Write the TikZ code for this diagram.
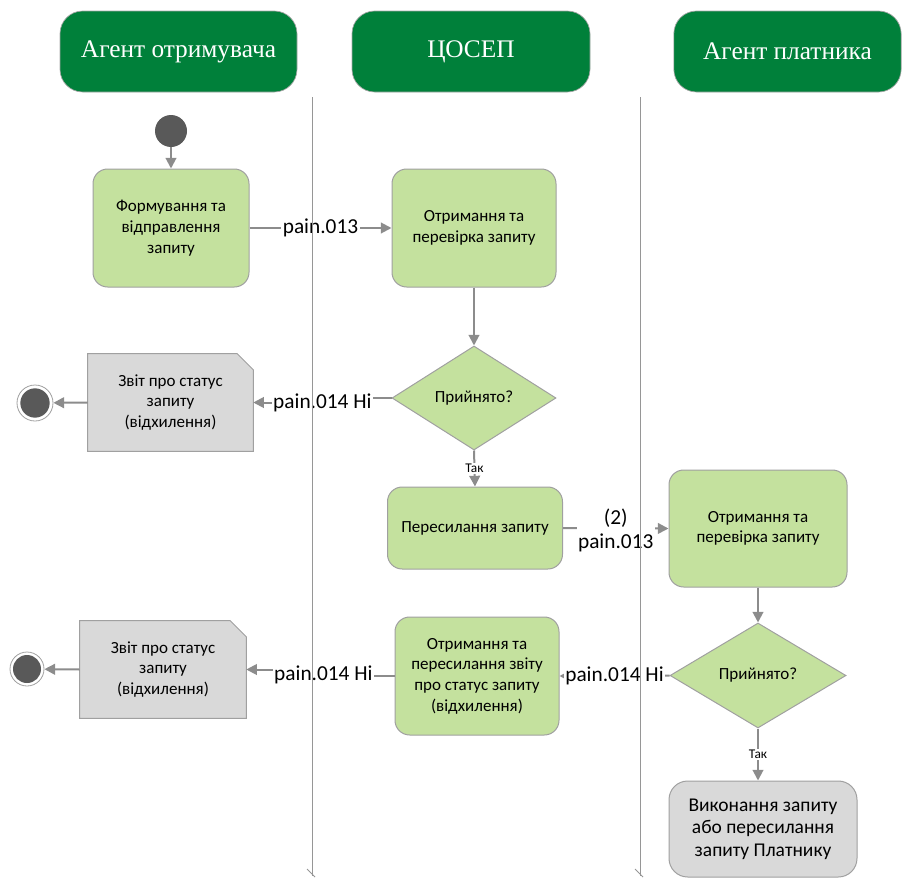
\documentclass[tikz,border=0pt]{standalone}
\usepackage{fontspec}
\setmainfont{Carlito}
\newfontfamily\hdrfont{Liberation Serif}
\usetikzlibrary{shapes.geometric,arrows.meta,calc,backgrounds}
\definecolor{hdrgreen}{RGB}{0,128,58}
\definecolor{lgreen}{RGB}{196,225,158}
\definecolor{docgray}{RGB}{217,217,217}
\definecolor{bordergray}{RGB}{160,160,160}
\definecolor{conngray}{RGB}{140,140,140}
\definecolor{lanegray}{RGB}{150,150,150}
\definecolor{darkdot}{RGB}{89,89,89}
\begin{document}
\begin{tikzpicture}[x=0.75pt,y=-0.75pt,
  hdr/.style={rectangle, rounded corners=17pt, fill=hdrgreen, draw=gray!70, line width=0.5pt,
    text=white, font=\hdrfont\fontsize{19}{23}\selectfont, minimum height=60.75pt},
  boxtext/.style={align=center, font=\fontsize{12.75}{15.5}\selectfont},
  actbox/.style={boxtext, rectangle, rounded corners=11pt, draw=bordergray, line width=0.75pt, fill=lgreen, inner sep=2pt},
  decbox/.style={boxtext, diamond, draw=bordergray, line width=0.75pt, fill=lgreen, inner sep=0pt},
  docbox/.style={boxtext, rectangle, inner sep=0pt},
  docshape/.style={fill=docgray, draw=bordergray, line width=0.75pt},
  conn/.style={draw=conngray, line width=1.5pt, -{Triangle[length=8pt,width=8pt]}},
  lbl/.style={fill=white, inner sep=1pt, font=\fontsize{16}{19}\selectfont, align=center},
  taklbl/.style={fill=white, inner sep=1pt, font=\fontsize{10}{12}\selectfont},
  lane/.style={draw=lanegray, line width=0.75pt}]
\useasboundingbox (0,0) rectangle (903,878);

% headers
\node[hdr, minimum width=177.75pt] (h1) at (178.5,51.5) {Агент отримувача};
\node[hdr, minimum width=178.5pt] (h2) at (471,51.5) {ЦОСЕП};
\node[hdr, minimum width=170.5pt] (h3) at (787.5,51.5) {Агент платника};

% start
\node[circle, fill=darkdot, inner sep=0pt, minimum size=24pt] (s0) at (171,131) {};

% column 1/2 nodes
\node[actbox, minimum width=117pt, minimum height=88.5pt] (b1) at (171,228) {Формування та\\відправлення\\запиту};
\node[actbox, minimum width=123pt, minimum height=88.5pt] (b2) at (474,228) {Отримання та\\перевірка запиту};
\node[decbox, minimum width=123pt, minimum height=78pt] (d1) at (474,398) {Прийнято?};
\node[docbox, minimum width=123.75pt, minimum height=72.75pt] (doc1) at (170.5,402.5) {Звіт про статус\\запиту\\(відхилення)};
\node[circle, draw=bordergray, line width=0.6pt, fill=white, inner sep=0pt, minimum size=27pt] (e1) at (35,403) {};
\node[circle, fill=darkdot, inner sep=0pt, minimum size=22pt] (e1i) at (e1) {};
\node[actbox, rounded corners=11pt, minimum width=131.25pt, minimum height=61.5pt] (b3) at (475,528) {Пересилання запиту};
\node[actbox, minimum width=133.5pt, minimum height=87.75pt] (b4) at (758,528.5) {Отримання та\\перевірка запиту};
\node[decbox, minimum width=132pt, minimum height=78.75pt] (d2) at (758,675.5) {Прийнято?};
\node[actbox, minimum width=123pt, minimum height=88.5pt] (b5) at (477,676) {Отримання та\\пересилання звіту\\про статус запиту\\(відхилення)};
\node[docbox, minimum width=124.5pt, minimum height=72.75pt] (doc2) at (163,669.5) {Звіт про статус\\запиту\\(відхилення)};
\node[circle, draw=bordergray, line width=0.6pt, fill=white, inner sep=0pt, minimum size=25.5pt] (e2) at (27,669) {};
\node[circle, fill=darkdot, inner sep=0pt, minimum size=21pt] (e2i) at (e2) {};
\node[actbox, fill=docgray, rounded corners=14pt, font=\fontsize{14.6}{16.9}\selectfont, minimum width=141pt, minimum height=72pt] (b6) at (763,829) {Виконання запиту\\або пересилання\\запиту Платнику};

% document shapes
\begin{scope}[on background layer]
\path[docshape] (doc1.north west) -- ($(doc1.north east)+(-16,0)$) -- ($(doc1.north east)+(0,16)$) -- (doc1.south east) -- (doc1.south west) -- cycle;
\path[docshape] (doc2.north west) -- ($(doc2.north east)+(-16,0)$) -- ($(doc2.north east)+(0,16)$) -- (doc2.south east) -- (doc2.south west) -- cycle;
\end{scope}

% connectors
\draw[conn] (s0) -- (b1);
\draw[conn] (b1) -- (b2);
\draw[conn] (b2) -- (d1);
\draw[conn] (d1.west) -| ($(d1.west)!0.5!(doc1.east)$) |- (doc1.east);
\draw[conn] (doc1.west) -- (e1);
\draw[conn] (d1.south) -- (b3.north);
\draw[conn] (b3.east) -- (b4.west);
\draw[conn] (b4) -- (d2);
\draw[conn] (d2.west) -- (b5.east);
\draw[conn] (b5.west) -| ($(b5.west)!0.5!(doc2.east)$) |- (doc2.east);
\draw[conn] (doc2.west) -- (e2);
\draw[conn] (d2.south) -- (d2.south |- b6.north);

% labels
\node[lbl] (l1) at ($(b1.east)!0.5!(b2.west)$) {pain.013};
\node[lbl] (l2) at ($(d1.west)!0.5!(doc1.east)+(0,3)$) {pain.014 Ні};
\node[taklbl] (t1) at ($(d1.south)!0.5!(b3.north)$) {Так};
\node[lbl, font=\fontsize{16}{18}\selectfont] (l3) at ($(b3.east)!0.5!(b4.west)+(0,2)$) {(2)\\pain.013};
\node[lbl] (l4) at ($(d2.west)!0.5!(b5.east)$) {pain.014 Ні};
\node[lbl] (l5) at ($(b5.west)!0.5!(doc2.east)+(3,2)$) {pain.014 Ні};
\node[taklbl] (t2) at ($(d2.south)!0.5!(d2.south |- b6.north)$) {Так};

% swimlane separators
\coordinate (la1t) at (312,97);
\coordinate (la1b) at (312,876);
\coordinate (la2t) at (640,97);
\coordinate (la2b) at (640,876);
\draw[lane] (la1t) -- (la1b);
\draw[lane] (la2t) -- (la2b);
\draw[lane] ($(la1b)+(-5,-7)$) -- ($(la1b)+(3,1)$);
\draw[lane] ($(la2b)+(-5,-7)$) -- ($(la2b)+(3,1)$);
\end{tikzpicture}
\end{document}
